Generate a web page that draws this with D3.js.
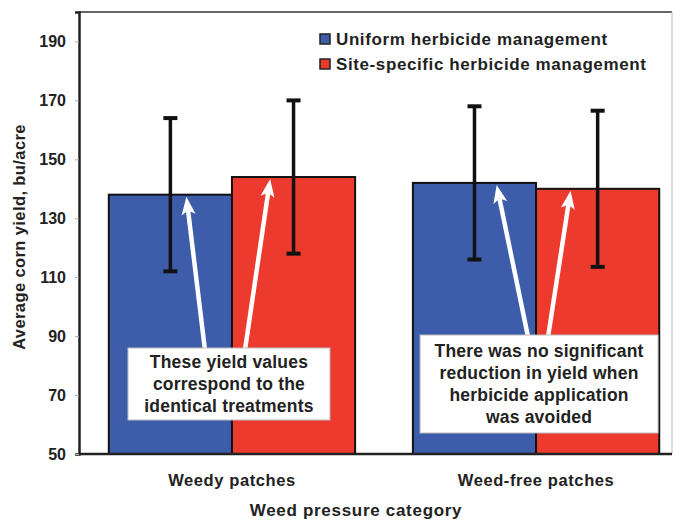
<!DOCTYPE html>
<html>
<head>
<meta charset="utf-8">
<script src="https://cdn.jsdelivr.net/npm/d3@7"></script>
<style>
  html, body { margin: 0; padding: 0; background: #fff; }
  svg { display: block; font-family: "Liberation Sans", Arial, sans-serif; }
  text { font-weight: bold; fill: #222; }
</style>
</head>
<body>
<svg id="chart" width="686" height="521"></svg>
<script>
// ---- data ----
const categories = ["Weedy patches", "Weed-free patches"];
const seriesNames = ["Uniform herbicide management", "Site-specific herbicide management"];
const uniformValues = [138, 142];
const siteSpecificValues = [144, 140];
const uniformErrors = [26, 26];
const siteSpecificErrors = [26, 26.5];
const yTicks = [50, 70, 90, 110, 130, 150, 170, 190];
const seriesColors = ["#3D5DAA", "#EC3A2E"];
const yTitle = "Average corn yield, bu/acre";
const xTitle = "Weed pressure category";
const note1 = ["These yield values", "correspond to the", "identical treatments"];
const note2 = ["There was no significant", "reduction in yield when", "herbicide application", "was avoided"];

const svg = d3.select("#chart");
const plotLeft = 79, plotRight = 672, plotTop = 12, plotBottom = 454;

const x0 = d3.scaleBand().domain(categories).range([plotLeft, plotRight])
  .paddingInner(0.19).paddingOuter(0.07).align(0.7);
const x1 = d3.scaleBand().domain(seriesNames).range([0, x0.bandwidth()]).padding(0);
const y = d3.scaleLinear().domain([50, 200]).range([plotBottom, plotTop]);

const rows = [];
categories.forEach((c, i) => {
  rows.push({cat: c, s: seriesNames[0], v: uniformValues[i], e: uniformErrors[i], color: seriesColors[0]});
  rows.push({cat: c, s: seriesNames[1], v: siteSpecificValues[i], e: siteSpecificErrors[i], color: seriesColors[1]});
});

// bars
svg.append("g").selectAll("rect").data(rows).join("rect")
  .attr("x", d => x0(d.cat) + x1(d.s))
  .attr("y", d => y(d.v))
  .attr("width", x1.bandwidth())
  .attr("height", d => y(50) - y(d.v))
  .attr("fill", d => d.color)
  .attr("stroke", "#111")
  .attr("stroke-width", 2);

// frame
svg.append("line").attr("x1", plotLeft).attr("x2", plotRight).attr("y1", plotTop).attr("y2", plotTop)
  .attr("stroke", "#333").attr("stroke-width", 1.5);
svg.append("line").attr("x1", plotRight).attr("x2", plotRight).attr("y1", plotTop).attr("y2", plotBottom)
  .attr("stroke", "#bbb").attr("stroke-width", 1);

// y axis
const yAxis = d3.axisLeft(y).tickValues(yTicks).tickSize(4).tickPadding(9).tickFormat(d3.format("d"));
const gy = svg.append("g").attr("transform", `translate(${plotLeft},0)`).call(yAxis);
gy.select(".domain").attr("stroke", "#222").attr("stroke-width", 2.5);
gy.selectAll(".tick line").attr("stroke", "#aaa");
gy.selectAll(".tick text").style("font-size", "16px").style("font-weight", "bold").attr("fill", "#2a2a2a");

// x axis
const xAxis = d3.axisBottom(x0).tickSize(0).tickPadding(20);
const gx = svg.append("g").attr("transform", `translate(0,${plotBottom})`).call(xAxis);
gx.select(".domain").attr("d", `M${plotLeft},0H${plotRight}`).attr("stroke", "#222").attr("stroke-width", 2.5);
gx.selectAll(".tick text").style("font-size", "16.5px").style("font-weight", "bold")
  .style("letter-spacing", "0.6px").attr("fill", "#2a2a2a");

// error bars
const eb = svg.append("g");
rows.forEach(d => {
  const cx = x0(d.cat) + x1(d.s) + x1.bandwidth() / 2;
  eb.append("line").attr("x1", cx).attr("x2", cx).attr("y1", y(d.v + d.e)).attr("y2", y(d.v - d.e))
    .attr("stroke", "#111").attr("stroke-width", 3.5);
  [d.v + d.e, d.v - d.e].forEach(v => {
    eb.append("line").attr("x1", cx - 7).attr("x2", cx + 7).attr("y1", y(v)).attr("y2", y(v))
      .attr("stroke", "#111").attr("stroke-width", 4);
  });
});

// arrows + annotation boxes
function arrow(g, x1p, y1p, x2p, y2p) {
  const ang = Math.atan2(y2p - y1p, x2p - x1p);
  const L = 18, W = 7;
  const ca = Math.cos(ang), sa = Math.sin(ang);
  const bx = x2p - L * ca, by = y2p - L * sa;
  g.append("line").attr("x1", x1p).attr("y1", y1p).attr("x2", bx + 4 * ca).attr("y2", by + 4 * sa)
    .attr("stroke", "#fff").attr("stroke-width", 4.5);
  const px = -sa, py = ca;
  g.append("path")
    .attr("d", `M${x2p},${y2p}L${bx + px * W},${by + py * W}L${bx + 4 * ca},${by + 4 * sa}L${bx - px * W},${by - py * W}Z`)
    .attr("fill", "#fff");
}

const notes = [
  {cat: categories[0], lines: note1, w: 202, topY: 348, h: 72, dx: -3,
   tips: [[seriesNames[0], 0.63, uniformValues[0]], [seriesNames[1], 0.31, siteSpecificValues[0]]],
   tails: [-24, 16]},
  {cat: categories[1], lines: note2, w: 238, topY: 335, h: 98, dx: 3,
   tips: [[seriesNames[0], 0.68, uniformValues[1]], [seriesNames[1], 0.28, siteSpecificValues[1]]],
   tails: [-11, 9]}
];
const ag = svg.append("g");
notes.forEach(n => {
  const cx = x0(n.cat) + x0.bandwidth() / 2 + n.dx;
  n.tips.forEach((t, i) => {
    const tx = x0(n.cat) + x1(t[0]) + t[1] * x1.bandwidth();
    arrow(ag, cx + n.tails[i], n.topY + 2, tx, y(t[2]) + 2);
  });
  ag.append("rect").attr("x", cx - n.w / 2).attr("y", n.topY).attr("width", n.w).attr("height", n.h)
    .attr("fill", "#fff").attr("stroke", "#bbb").attr("stroke-width", 1);
  const lh = 21.8;
  const startY = n.topY + n.h / 2 - (n.lines.length - 1) * lh / 2;
  n.lines.forEach((s, i) => {
    ag.append("text").attr("x", cx).attr("y", startY + i * lh).attr("dy", "0.35em")
      .attr("text-anchor", "middle").style("font-size", "17.5px").style("letter-spacing", "0.2px").text(s);
  });
});

// legend
const lg = svg.append("g").attr("transform", "translate(320,39)");
seriesNames.forEach((s, i) => {
  const g = lg.append("g").attr("transform", `translate(0,${i * 25})`);
  g.append("rect").attr("x", 0).attr("y", -5).attr("width", 10).attr("height", 10)
    .attr("fill", seriesColors[i]).attr("stroke", "#222").attr("stroke-width", 1.5);
  g.append("text").attr("x", 16).attr("dy", "0.35em").style("font-size", "17px")
    .style("letter-spacing", "0.6px").text(s);
});

// axis titles
svg.append("text").attr("transform", `translate(19,237) rotate(-90)`)
  .attr("text-anchor", "middle").attr("dy", "0.35em").style("font-size", "16.5px")
  .style("letter-spacing", "0.4px").attr("fill", "#2a2a2a").text(yTitle);
svg.append("text").attr("x", 356).attr("y", 510).attr("dy", "0.35em")
  .attr("text-anchor", "middle").style("font-size", "17px").style("letter-spacing", "0.7px")
  .attr("fill", "#2a2a2a").text(xTitle);
</script>
</body>
</html>
